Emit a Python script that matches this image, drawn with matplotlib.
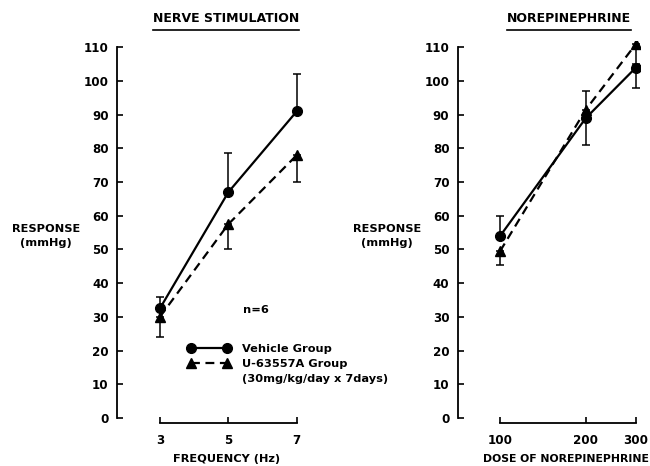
import matplotlib
matplotlib.use("Agg")
import matplotlib.pyplot as plt
from matplotlib.lines import Line2D

# ---- dados ----
freq = [3, 5, 7]
veh_ns = [32.5, 67, 91]
veh_ns_up = [3.5, 11.5, 11]
u_ns = [30, 57.5, 78]
u_ns_dn = [6, 7.5, 8]

dose = [100, 200, 300]
veh_ne = [54, 89, 104]
veh_ne_up = [6, 0, 0]
veh_ne_dn = [0, 8, 6]
u_ne = [49.5, 91.5, 111]
u_ne_up = [0, 5.5, 0]
u_ne_dn = [4, 0, 6]

yticks = list(range(0, 111, 10))

plt.rcParams["font.family"] = "DejaVu Sans"
plt.rcParams["font.weight"] = "bold"
fs = 8.2    # textos
fst = 8.6   # rotulos dos ticks

fig = plt.figure(figsize=(6.5, 4.66), dpi=100)
ax1 = fig.add_axes([0.18, 0.0923, 0.2923, 0.8206])
ax2 = fig.add_axes([0.7042, 0.0923, 0.2804, 0.8206])

lk = dict(color="k", lw=1.6, ms=7, elinewidth=1.1, capsize=3.2, capthick=1.1)

ax1.errorbar(freq, veh_ns, yerr=[[0] * 3, veh_ns_up], marker="o", ls="-", **lk)
ax1.errorbar(freq, u_ns, yerr=[u_ns_dn, [0] * 3], marker="^", ls=(0, (4, 2.5)), **lk)
ax2.errorbar(dose, veh_ne, yerr=[veh_ne_dn, veh_ne_up], marker="o", ls="-", **lk)
ax2.errorbar(dose, u_ne, yerr=[u_ne_dn, u_ne_up], marker="^", ls=(0, (4, 2.5)), **lk)

ax1.set_xlim(1.745, 7.3)
ax2.set_xscale("log")
ax2.set_xlim(71, 310)

for ax, xt, xl, xfs in [(ax1, freq, "FREQUENCY (Hz)", fs),
                        (ax2, dose, "DOSE OF NOREPINEPHRINE", 7.8)]:
    ax.set_ylim(-1.5, 112)
    for s in ("top", "right"):
        ax.spines[s].set_visible(False)
    ax.spines["left"].set_bounds(0, 110)
    ax.spines["bottom"].set_bounds(xt[0], xt[-1])
    ax.spines["left"].set_linewidth(1.3)
    ax.spines["bottom"].set_linewidth(1.3)
    ax.set_yticks(yticks)
    ax.set_xticks(xt)
    ax.set_xticklabels([str(v) for v in xt])
    ax.minorticks_off()
    ax.tick_params(axis="y", direction="in", length=4, width=1.2, pad=6, labelsize=fst)
    ax.tick_params(axis="x", direction="in", length=4, width=1.2, pad=8, labelsize=fst)
    ax.set_xlabel(xl, fontsize=xfs, fontweight="bold")
    frac = (ax.transAxes.inverted().transform(ax.transData.transform((xt[0], 0)))[0]
            + ax.transAxes.inverted().transform(ax.transData.transform((xt[-1], 0)))[0]) / 2
    ax.xaxis.set_label_coords(frac - 0.01, -0.08)

# rotulos do eixo y
fig.text(46 / 650, 1 - 236 / 466, "RESPONSE\n(mmHg)", ha="center", va="center",
         fontsize=fs, fontweight="bold", linespacing=1.45)
fig.text(387 / 650, 1 - 236 / 466, "RESPONSE\n(mmHg)", ha="center", va="center",
         fontsize=fs, fontweight="bold", linespacing=1.45)

# titulos sublinhados
t1 = fig.text(226 / 650, 1 - 18 / 466, "NERVE STIMULATION", ha="center", va="center",
              fontsize=9, fontweight="bold")
t2 = fig.text(569 / 650, 1 - 18 / 466, "NOREPINEPHRINE", ha="center", va="center",
              fontsize=9, fontweight="bold")

ax1.text(5.42, 32, "n=6", fontsize=fs, fontweight="bold", va="center")

handles = [
    Line2D([], [], color="k", lw=1.6, marker="o", ms=7),
    Line2D([], [], color="k", lw=1.6, marker="^", ms=7, ls=(0, (4, 2.5))),
    Line2D([], [], color="none"),
]
labels = ["Vehicle Group", "U-63557A Group", "(30mg/kg/day x 7days)"]
fig.legend(handles, labels, loc="upper left", bbox_to_anchor=(188 / 650, 1 - 344 / 466),
           frameon=False, numpoints=2, handlelength=3.7, handletextpad=1.0,
           borderpad=0, borderaxespad=0, labelspacing=0.45, fontsize=fs)

fig.canvas.draw()
r = fig.canvas.get_renderer()
for t in (t1, t2):
    bb = t.get_window_extent(r).transformed(fig.transFigure.inverted())
    fig.add_artist(Line2D([bb.x0, bb.x1], [bb.y0 - 0.012, bb.y0 - 0.012], color="k", lw=1.2,
                          transform=fig.transFigure))

fig.savefig("out.png", dpi=100)
